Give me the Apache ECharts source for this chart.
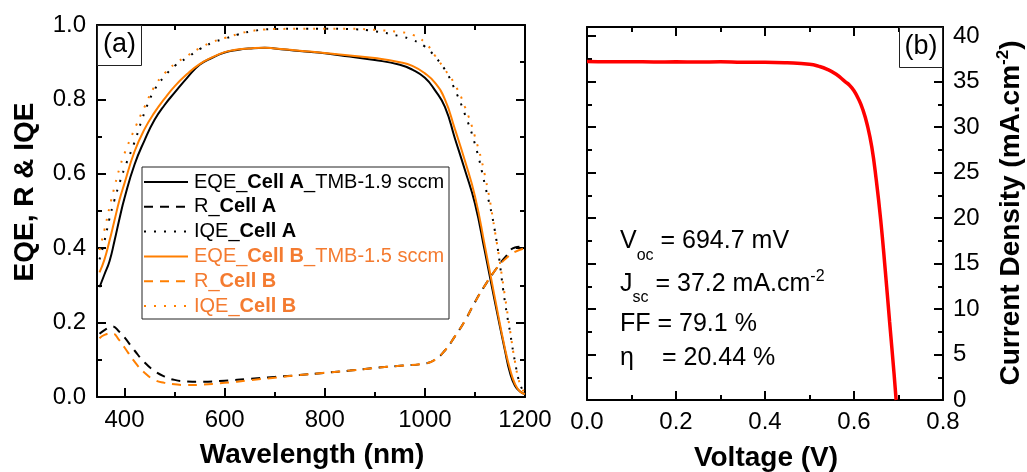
<!DOCTYPE html>
<html>
<head>
<meta charset="utf-8">
<script src="https://cdn.jsdelivr.net/npm/echarts@6/dist/echarts.min.js"></script>
<style>
  html, body { margin: 0; padding: 0; background: #fff; }
  #chart { width: 1027px; height: 472px; }
</style>
</head>
<body>
<div id="chart"></div>
<script>
// ---- Panel (a): spectral response ----
const wavelength = [350,360,370,380,390,400,420,440,460,480,500,525,550,575,600,625,650,680,700,750,800,850,900,950,975,1000,1020,1040,1060,1080,1100,1120,1140,1160,1170,1180,1190,1200];
const eqeCellA = [0.295,0.33,0.365,0.42,0.48,0.535,0.625,0.69,0.745,0.785,0.818,0.858,0.893,0.912,0.926,0.933,0.937,0.939,0.937,0.930,0.924,0.915,0.906,0.893,0.88,0.858,0.825,0.78,0.695,0.61,0.52,0.39,0.255,0.125,0.065,0.03,0.015,0.008];
const eqeCellB = [0.335,0.37,0.42,0.475,0.53,0.575,0.66,0.72,0.765,0.802,0.835,0.868,0.895,0.913,0.927,0.934,0.937,0.939,0.937,0.931,0.925,0.918,0.911,0.90,0.89,0.87,0.845,0.80,0.72,0.635,0.54,0.405,0.265,0.13,0.075,0.035,0.015,0.008];
const iqeCellA = [0.37,0.42,0.48,0.53,0.575,0.615,0.685,0.765,0.826,0.862,0.89,0.912,0.935,0.952,0.963,0.974,0.982,0.988,0.989,0.99,0.99,0.989,0.983,0.97,0.96,0.942,0.915,0.88,0.826,0.76,0.68,0.57,0.445,0.255,0.175,0.095,0.035,0.01];
const iqeCellB = [0.395,0.45,0.51,0.565,0.615,0.655,0.72,0.78,0.835,0.87,0.895,0.917,0.938,0.954,0.965,0.975,0.983,0.988,0.989,0.99,0.99,0.99,0.987,0.981,0.974,0.953,0.918,0.88,0.84,0.78,0.70,0.595,0.445,0.27,0.18,0.095,0.035,0.01];
const wavelengthR = [350,360,375,390,400,420,440,460,480,500,525,550,600,650,700,750,800,850,900,950,1000,1020,1040,1060,1080,1100,1120,1140,1160,1180,1200];
const reflCellA = [0.17,0.18,0.19,0.175,0.16,0.125,0.093,0.07,0.055,0.046,0.042,0.041,0.044,0.049,0.054,0.059,0.065,0.071,0.078,0.084,0.09,0.10,0.125,0.163,0.205,0.255,0.30,0.34,0.375,0.402,0.405];
const reflCellB = [0.158,0.167,0.171,0.152,0.133,0.095,0.065,0.046,0.038,0.034,0.032,0.033,0.038,0.045,0.052,0.059,0.065,0.071,0.078,0.084,0.09,0.10,0.125,0.163,0.205,0.255,0.30,0.34,0.37,0.39,0.40];
const wavelengthTicks = [400,600,800,1000,1200];
const wavelengthMinorTicks = [500,700,900,1100];

// ---- Panel (b): J-V curve ----
const voltage = [0,0.05,0.1,0.15,0.2,0.25,0.3,0.35,0.4,0.45,0.5,0.52,0.54,0.56,0.58,0.59,0.60,0.61,0.62,0.63,0.64,0.65,0.66,0.67,0.68,0.69,0.6947];
const currentDensity = [37.2,37.18,37.18,37.16,37.17,37.15,37.17,37.12,37.12,37.06,36.9,36.7,36.35,35.8,35.0,34.6,34.0,33.1,31.9,30.2,27.8,24.2,19.8,14.4,8.6,2.9,0];
const jTicks = [0,5,10,15,20,25,30,35,40];
const jMinorTicks = [2.5,7.5,12.5,17.5,22.5,27.5,32.5,37.5];

const FONT = '"Liberation Sans", Arial, Helvetica, sans-serif';
const BLACK = '#000000';
const ORANGE = '#FF7F00';
const ORANGE_TEXT = '#F47B30';
const DASHED = [9, 7];
const DOTTED = [2, 8];

// Series in legend order: [regular prefix, bold part, regular suffix]
const curves = [
  { parts: ['EQE_', 'Cell A', '_TMB-1.9 sccm'], x: wavelength,  y: eqeCellA,  color: BLACK,  dash: 'solid', text: BLACK },
  { parts: ['R_',   'Cell A', ''],              x: wavelengthR, y: reflCellA, color: BLACK,  dash: DASHED,  text: BLACK },
  { parts: ['IQE_', 'Cell A', ''],              x: wavelength,  y: iqeCellA,  color: BLACK,  dash: DOTTED,  text: BLACK },
  { parts: ['EQE_', 'Cell B', '_TMB-1.5 sccm'], x: wavelength,  y: eqeCellB,  color: ORANGE, dash: 'solid', text: ORANGE_TEXT },
  { parts: ['R_',   'Cell B', ''],              x: wavelengthR, y: reflCellB, color: ORANGE, dash: DASHED,  text: ORANGE_TEXT },
  { parts: ['IQE_', 'Cell B', ''],              x: wavelength,  y: iqeCellB,  color: ORANGE, dash: DOTTED,  text: ORANGE_TEXT }
];

const zip = (xs, ys) => xs.map((v, i) => [v, ys[i]]);

const tickLine = { color: BLACK, width: 2 };
const frameLine = { show: true, onZero: false, lineStyle: { color: BLACK, width: 2 } };
const noLine = { show: false, onZero: false };
const tickLabel = { color: BLACK, fontSize: 24, fontFamily: FONT };

// Grid 0 and grid 1 plot rectangles
const G0 = { left: 97, top: 25, width: 428, height: 372 };
const G1 = { left: 587, top: 27, width: 356, height: 373 };

const xAxes = [
  // 0: wavelength, bottom, major ticks + labels
  { gridIndex: 0, type: 'value', position: 'bottom', min: 345, max: 1200,
    axisLine: frameLine,
    axisTick: { show: true, inside: true, length: 9, lineStyle: tickLine, customValues: wavelengthTicks },
    axisLabel: Object.assign({ margin: 11, customValues: wavelengthTicks, formatter: v => String(v) }, tickLabel),
    splitLine: { show: false } },
  // 1: wavelength, bottom, minor ticks
  { gridIndex: 0, type: 'value', position: 'bottom', min: 345, max: 1200,
    axisLine: noLine,
    axisTick: { show: true, inside: true, length: 5, lineStyle: tickLine, customValues: wavelengthMinorTicks },
    axisLabel: { show: false }, splitLine: { show: false } },
  // 2: wavelength, top frame
  { gridIndex: 0, type: 'value', position: 'top', min: 345, max: 1200,
    axisLine: frameLine,
    axisTick: { show: true, inside: true, length: 9, lineStyle: tickLine, customValues: wavelengthTicks },
    axisLabel: { show: false }, splitLine: { show: false } },
  // 3: wavelength, top minor ticks
  { gridIndex: 0, type: 'value', position: 'top', min: 345, max: 1200,
    axisLine: noLine,
    axisTick: { show: true, inside: true, length: 5, lineStyle: tickLine, customValues: wavelengthMinorTicks },
    axisLabel: { show: false }, splitLine: { show: false } },
  // 4: voltage, bottom
  { gridIndex: 1, type: 'value', position: 'bottom', min: 0, max: 0.8, interval: 0.2,
    axisLine: frameLine,
    axisTick: { show: true, inside: true, length: 9, lineStyle: tickLine },
    minorTick: { show: true, splitNumber: 2, length: 5, lineStyle: tickLine },
    axisLabel: Object.assign({ margin: 10, formatter: v => v.toFixed(1) }, tickLabel),
    splitLine: { show: false }, minorSplitLine: { show: false } },
  // 5: voltage, top frame
  { gridIndex: 1, type: 'value', position: 'top', min: 0, max: 0.8, interval: 0.2,
    axisLine: frameLine,
    axisTick: { show: true, inside: true, length: 9, lineStyle: tickLine },
    minorTick: { show: true, splitNumber: 2, length: 5, lineStyle: tickLine },
    axisLabel: { show: false }, splitLine: { show: false } }
];

const yAxes = [
  // 0: EQE/R/IQE, left with labels
  { gridIndex: 0, type: 'value', position: 'left', min: 0, max: 1, interval: 0.2,
    axisLine: frameLine,
    axisTick: { show: true, inside: true, length: 9, lineStyle: tickLine },
    minorTick: { show: true, splitNumber: 2, length: 5, lineStyle: tickLine },
    axisLabel: Object.assign({ margin: 11, formatter: v => v.toFixed(1) }, tickLabel),
    splitLine: { show: false } },
  // 1: right frame of panel (a)
  { gridIndex: 0, type: 'value', position: 'right', min: 0, max: 1, interval: 0.2,
    axisLine: frameLine,
    axisTick: { show: true, inside: true, length: 9, lineStyle: tickLine },
    minorTick: { show: true, splitNumber: 2, length: 5, lineStyle: tickLine },
    axisLabel: { show: false }, splitLine: { show: false } },
  // 2: current density, right with labels
  { gridIndex: 1, type: 'value', position: 'right', min: 0, max: 41,
    axisLine: frameLine,
    axisTick: { show: true, inside: true, length: 9, lineStyle: tickLine, customValues: jTicks },
    axisLabel: Object.assign({ margin: 10, customValues: jTicks, formatter: v => String(v) }, tickLabel),
    splitLine: { show: false } },
  // 3: right minor ticks
  { gridIndex: 1, type: 'value', position: 'right', min: 0, max: 41,
    axisLine: noLine,
    axisTick: { show: true, inside: true, length: 5, lineStyle: tickLine, customValues: jMinorTicks },
    axisLabel: { show: false }, splitLine: { show: false } },
  // 4: left frame of panel (b)
  { gridIndex: 1, type: 'value', position: 'left', min: 0, max: 41,
    axisLine: frameLine,
    axisTick: { show: true, inside: true, length: 9, lineStyle: tickLine, customValues: jTicks },
    axisLabel: { show: false }, splitLine: { show: false } },
  // 5: left minor ticks
  { gridIndex: 1, type: 'value', position: 'left', min: 0, max: 41,
    axisLine: noLine,
    axisTick: { show: true, inside: true, length: 5, lineStyle: tickLine, customValues: jMinorTicks },
    axisLabel: { show: false }, splitLine: { show: false } }
];

const series = curves.map(c => ({
  type: 'line',
  name: c.parts.join(''),
  xAxisIndex: 0, yAxisIndex: 0,
  data: zip(c.x, c.y),
  symbol: 'none',
  smooth: 0.5,
  silent: true,
  lineStyle: { color: c.color, width: 2, type: c.dash }
}));
series.push({
  type: 'line', name: 'J-V',
  xAxisIndex: 4, yAxisIndex: 2,
  data: zip(voltage, currentDensity),
  symbol: 'none', smooth: 0.5, silent: true,
  lineStyle: { color: '#FF0000', width: 3.5 }
});

// Legend box drawn as graphic elements
const LEG = { x: 142, y: 167, w: 307, h: 152, row0: 182, step: 24.8, lineX: 144, lineLen: 44, textX: 194 };
const legendEls = [{
  type: 'rect', shape: { x: LEG.x, y: LEG.y, width: LEG.w, height: LEG.h },
  style: { fill: '#fff', stroke: '#222', lineWidth: 1 }, z: 10
}];
curves.forEach((c, i) => {
  const cy = LEG.row0 + i * LEG.step;
  legendEls.push({
    type: 'line', shape: { x1: LEG.lineX, y1: cy, x2: LEG.lineX + LEG.lineLen, y2: cy },
    style: { stroke: c.color, lineWidth: 2, lineDash: c.dash === 'solid' ? null : c.dash }, z: 11
  });
  const tag = c.text === BLACK ? 'k' : 'o';
  let txt = '{' + tag + 'n|' + c.parts[0] + '}{' + tag + 'b|' + c.parts[1] + '}';
  if (c.parts[2]) txt += '{' + tag + 'n|' + c.parts[2] + '}';
  legendEls.push({
    type: 'text', x: LEG.textX, y: cy, z: 11,
    style: {
      text: txt, align: 'left', verticalAlign: 'middle',
      rich: {
        kn: { fontSize: 20, fontFamily: FONT, fill: BLACK, verticalAlign: 'middle' },
        kb: { fontSize: 20, fontFamily: FONT, fontWeight: 'bold', fill: BLACK, verticalAlign: 'middle' },
        on: { fontSize: 20, fontFamily: FONT, fill: ORANGE_TEXT, verticalAlign: 'middle' },
        ob: { fontSize: 20, fontFamily: FONT, fontWeight: 'bold', fill: ORANGE_TEXT, verticalAlign: 'middle' }
      }
    }
  });
});

const annoRich = {
  m: { fontSize: 25, fontFamily: FONT, fill: BLACK, verticalAlign: 'middle' },
  eta: { fontSize: 25, fontFamily: FONT, fill: BLACK, width: 42, verticalAlign: 'middle' },
  sub1: { fontSize: 16, fontFamily: FONT, fill: BLACK, padding: [30, 0, 0, 0], verticalAlign: 'middle' },
  sub2: { fontSize: 16, fontFamily: FONT, fill: BLACK, padding: [27, 0, 0, 0], verticalAlign: 'middle' },
  sup: { fontSize: 16, fontFamily: FONT, fill: BLACK, padding: [0, 0, 14, 0], verticalAlign: 'middle' }
};
const annotation = (y, text) => ({
  type: 'text', x: 620, y: y, z: 12,
  style: { text: text, align: 'left', verticalAlign: 'middle', rich: annoRich }
});

const titleStyle = { fontSize: 28, fontFamily: FONT, fontWeight: 'bold', fill: BLACK, align: 'center', verticalAlign: 'middle' };

const graphics = legendEls.concat([
  // panel tags
  { type: 'rect', shape: { x: 97.5, y: 25.5, width: 44, height: 40 }, style: { fill: '#fff', stroke: '#222', lineWidth: 1 }, z: 10 },
  { type: 'text', x: 119.5, y: 45, z: 11, style: { text: '(a)', fontSize: 27, fontFamily: FONT, fill: BLACK, align: 'center', verticalAlign: 'middle' } },
  { type: 'rect', shape: { x: 899.5, y: 27.5, width: 43, height: 40 }, style: { fill: '#fff', stroke: '#222', lineWidth: 1 }, z: 10 },
  { type: 'text', x: 921, y: 47, z: 11, style: { text: '(b)', fontSize: 27, fontFamily: FONT, fill: BLACK, align: 'center', verticalAlign: 'middle' } },
  // axis titles
  { type: 'text', x: 25, y: 192, rotation: Math.PI / 2, z: 11, style: Object.assign({ text: 'EQE, R & IQE' }, titleStyle) },
  { type: 'text', x: 312, y: 455, z: 11, style: Object.assign({ text: 'Wavelength (nm)' }, titleStyle) },
  { type: 'text', x: 766, y: 458, z: 11, style: Object.assign({ text: 'Voltage (V)' }, titleStyle) },
  { type: 'text', x: 1011, y: 213, rotation: Math.PI / 2, z: 11,
    style: {
      text: '{t|Current Density (mA.cm}{s|-2}{t|)}', align: 'center', verticalAlign: 'middle',
      rich: {
        t: { fontSize: 28, fontFamily: FONT, fontWeight: 'bold', fill: BLACK, verticalAlign: 'middle' },
        s: { fontSize: 17, fontFamily: FONT, fontWeight: 'bold', fill: BLACK, padding: [0, 0, 16, 0], verticalAlign: 'middle' }
      }
    } },
  // cell parameters
  annotation(241, '{m|V}{sub1|oc}{m| = 694.7 mV}'),
  annotation(284, '{m|J}{sub2|sc}{m| = 37.2 mA.cm}{sup|-2}'),
  annotation(324, '{m|FF = 79.1 %}'),
  annotation(358, '{eta|η}{m|= 20.44 %}')
]);

const chart = echarts.init(document.getElementById('chart'), null, { renderer: 'canvas' });
chart.setOption({
  backgroundColor: '#ffffff',
  animation: false,
  grid: [
    Object.assign({ containLabel: false }, G0),
    Object.assign({ containLabel: false }, G1)
  ],
  xAxis: xAxes,
  yAxis: yAxes,
  series: series,
  graphic: graphics
});
</script>
</body>
</html>
